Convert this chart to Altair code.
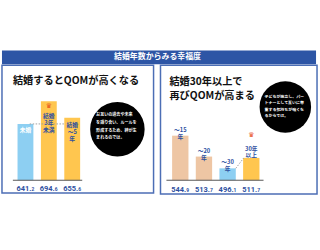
import altair as alt
import pandas as pd

TITLE = "結婚年数からみる幸福度"
LEFT_HEADING = "結婚するとQOMが高くなる"
RIGHT_HEADING_1 = "結婚30年以上で"
RIGHT_HEADING_2 = "再びQOMが高まる"
LEFT_NOTE = "お互いの過去や未来\nを語り合い、ルールを\n形成するため、絆が生\nまれるのでは。"
RIGHT_NOTE = "子どもが独立し、パー\nトナーとして互いに尊\n重する気持ちが強くな\nるからでは。"

LEFT_CATS = ["未婚", "結婚3年未満", "結婚～5年"]
LEFT_LABELS = ["未婚", "結婚\n3年\n未満", "結婚\n～5\n年"]
LEFT_VALUES = [641.2, 694.6, 655.6]
LEFT_BASE = 509.0

RIGHT_CATS = ["～15年", "～20年", "～30年", "30年以上"]
RIGHT_LABELS = ["～15\n年", "～20\n年", "～30\n年", "30年\n以上"]
RIGHT_VALUES = [544.9, 513.7, 496.1, 511.7]
RIGHT_BASE = 478.35

JP = "Noto Sans CJK JP"
NUM = "Roboto"
BLUE_HEAD = "#2D55A5"
BORDER = "#4C6EB5"
LABEL_BLUE = "#2E4F9F"
LIGHT_BLUE = "#8DCFF2"
ORANGE = "#FFC64F"
PEACH = "#EEC6A4"
CROWN_RED = "#E8531D"
CROWN = "♛"


def split_value(v):
    a, b = f"{v:.1f}".split(".")
    return a + ".", b


def make_df(cats, labels, values, base):
    return pd.DataFrame({
        "cat": cats,
        "idx": list(range(len(cats))),
        "label": labels,
        "value": values,
        "base": [base] * len(cats),
        "main": [split_value(v)[0] for v in values],
        "dec": [split_value(v)[1] for v in values],
    })


left_df = make_df(LEFT_CATS, LEFT_LABELS, LEFT_VALUES, LEFT_BASE)
right_df = make_df(RIGHT_CATS, RIGHT_LABELS, RIGHT_VALUES, RIGHT_BASE)
one = pd.DataFrame({"k": [0]})

# ---------------- header ----------------
header_bg = alt.Chart(one).mark_rect(color=BLUE_HEAD).encode(
    x=alt.value(0), x2=alt.value(317), y=alt.value(0), y2=alt.value(14))
header_txt = alt.Chart(one).mark_text(
    text=TITLE, font=JP, fontSize=8, fontWeight="bold", color="white",
    align="center", baseline="middle"
).encode(x=alt.value(157), y=alt.value(7))
header = alt.layer(header_bg, header_txt).properties(width=317, height=14)

# ---------------- left panel ----------------
lscale_x = alt.Scale(domain=[-0.792, 5.267], nice=False, zero=False)
lscale_y = alt.Scale(domain=[478.8, 778.8], nice=False, zero=False)
lx = alt.X("idx:Q", axis=None, scale=lscale_x)
ly = alt.Y("value:Q", axis=None, scale=lscale_y)
lb = alt.Y("base:Q", axis=None, scale=lscale_y)

l_border = alt.Chart(one).mark_rect(
    fill="white", stroke=BORDER, strokeWidth=1.5
).encode(x=alt.value(0), x2=alt.value(153), y=alt.value(0), y2=alt.value(129))
l_bars = alt.Chart(left_df).mark_bar(width=16).encode(
    x=lx, y=ly, y2="base:Q",
    color=alt.Color("cat:N", scale=alt.Scale(domain=LEFT_CATS, range=[LIGHT_BLUE, ORANGE, ORANGE]), legend=None),
)
l_dotted = alt.Chart(left_df.iloc[[0]]).mark_rule(
    color="#A0A0A0", strokeDash=[1.5, 1.5], strokeWidth=1
).encode(x=alt.value(28), x2=alt.value(63), y=ly)
l_axis = alt.Chart(left_df.iloc[[0]]).mark_rule(
    color="#555555", strokeWidth=1
).encode(x=alt.value(11), x2=alt.value(81), y=lb)
l_text1 = alt.Chart(left_df.iloc[[0]]).mark_text(
    font=JP, fontSize=5.8, fontWeight="bold", lineBreak="\n", lineHeight=7,
    baseline="top", align="center", dy=3, color="white"
).encode(x=lx, y=ly, text="label:N")
l_text2 = alt.Chart(left_df.iloc[[1]]).mark_text(
    font=JP, fontSize=5.8, fontWeight="bold", lineBreak="\n", lineHeight=7,
    baseline="top", align="center", dy=12, color=LABEL_BLUE
).encode(x=lx, y=ly, text="label:N")
l_text3 = alt.Chart(left_df.iloc[[2]]).mark_text(
    font=JP, fontSize=5.8, fontWeight="bold", lineBreak="\n", lineHeight=7,
    baseline="top", align="center", dy=4, color=LABEL_BLUE
).encode(x=lx, y=ly, text="label:N")
l_crown = alt.Chart(left_df.iloc[[1]]).mark_text(
    text=CROWN, font="DejaVu Sans", fontSize=7, color=CROWN_RED,
    align="center", baseline="middle", dy=4.5
).encode(x=lx, y=ly)
l_main = alt.Chart(left_df).mark_text(
    font=NUM, fontSize=7.5, fontWeight="bold", color=LABEL_BLUE,
    align="right", baseline="alphabetic", dx=6, dy=11
).encode(x=lx, y=lb, text="main:N")
l_dec = alt.Chart(left_df).mark_text(
    font=NUM, fontSize=5, fontWeight="bold", color=LABEL_BLUE,
    align="left", baseline="alphabetic", dx=6, dy=11
).encode(x=lx, y=lb, text="dec:N")
l_heading = alt.Chart(one).mark_text(
    text=LEFT_HEADING, font=JP, fontSize=10.3, fontWeight="bold", color="#111111",
    align="left", baseline="middle"
).encode(x=alt.value(11), y=alt.value(16))
l_circle = alt.Chart(one).mark_circle(size=3025, color="black", opacity=1).encode(
    x=alt.value(116.5), y=alt.value(64.5)
)
l_note = alt.Chart(one).mark_text(
    text=LEFT_NOTE, font=JP, fontSize=4.1, fontWeight="bold", color="white",
    align="left", baseline="top", lineBreak="\n", lineHeight=7.7
).encode(x=alt.value(95), y=alt.value(48.5))

left = alt.layer(
    l_border, l_bars, l_dotted, l_axis, l_text1, l_text2, l_text3, l_crown, l_main, l_dec,
    l_heading, l_circle, l_note
).properties(width=153, height=129)

# ---------------- right panel ----------------
rscale_x = alt.Scale(domain=[-0.627, 5.569], nice=False, zero=False)
rscale_y = alt.Scale(domain=[457.65, 649.95], nice=False, zero=False)
rx = alt.X("idx:Q", axis=None, scale=rscale_x)
ry = alt.Y("value:Q", axis=None, scale=rscale_y)
rb = alt.Y("base:Q", axis=None, scale=rscale_y)

r_border = alt.Chart(one).mark_rect(
    fill="white", stroke=BORDER, strokeWidth=1.5
).encode(x=alt.value(0), x2=alt.value(158), y=alt.value(0), y2=alt.value(130))
r_bars = alt.Chart(right_df).mark_bar(width=16.5).encode(
    x=rx, y=ry, y2="base:Q",
    color=alt.Color("cat:N", scale=alt.Scale(domain=RIGHT_CATS, range=[PEACH, PEACH, LIGHT_BLUE, ORANGE]), legend=None),
)
r_axis = alt.Chart(right_df.iloc[[0]]).mark_rule(
    color="#555555", strokeWidth=1
).encode(x=alt.value(6), x2=alt.value(104), y=rb)
r_dotted = alt.Chart(right_df.iloc[[2]]).mark_rule(
    color="#A0A0A0", strokeDash=[1.5, 1.5], strokeWidth=1
).encode(x=alt.value(76), x2=alt.value(84), y=ry, y2=alt.datum(RIGHT_VALUES[3]))
r_text = alt.Chart(right_df.iloc[[0, 1, 2]]).mark_text(
    font=JP, fontSize=5.8, fontWeight="bold", lineBreak="\n", lineHeight=7,
    baseline="bottom", align="center", dy=-3, color=LABEL_BLUE
).encode(x=rx, y=ry, text="label:N")
r_text_top = alt.Chart(right_df.iloc[[3]]).mark_text(
    font=JP, fontSize=5.8, fontWeight="bold", lineBreak="\n", lineHeight=6.5,
    baseline="bottom", align="center", dy=-6, color=LABEL_BLUE
).encode(x=rx, y=ry, text="label:N")
r_crown = alt.Chart(right_df.iloc[[3]]).mark_text(
    text=CROWN, font="DejaVu Sans", fontSize=7, color=CROWN_RED,
    align="center", baseline="middle", dy=-23
).encode(x=rx, y=ry)
r_main = alt.Chart(right_df).mark_text(
    font=NUM, fontSize=7.5, fontWeight="bold", color=LABEL_BLUE,
    align="right", baseline="alphabetic", dx=6, dy=12
).encode(x=rx, y=rb, text="main:N")
r_dec = alt.Chart(right_df).mark_text(
    font=NUM, fontSize=5, fontWeight="bold", color=LABEL_BLUE,
    align="left", baseline="alphabetic", dx=6, dy=12
).encode(x=rx, y=rb, text="dec:N")
r_head1 = alt.Chart(one).mark_text(
    text=RIGHT_HEADING_1, font=JP, fontSize=10.3, fontWeight="bold", color="#111111",
    align="left", baseline="middle"
).encode(x=alt.value(9), y=alt.value(17))
r_head2 = alt.Chart(one).mark_text(
    text=RIGHT_HEADING_2, font=JP, fontSize=10.3, fontWeight="bold", color="#111111",
    align="left", baseline="middle"
).encode(x=alt.value(9), y=alt.value(30.5))
r_circle = alt.Chart(one).mark_circle(size=2704, color="black", opacity=1).encode(
    x=alt.value(126), y=alt.value(42)
)
r_note = alt.Chart(one).mark_text(
    text=RIGHT_NOTE, font=JP, fontSize=4.0, fontWeight="bold", color="white",
    align="left", baseline="top", lineBreak="\n", lineHeight=6.6
).encode(x=alt.value(105), y=alt.value(29.5))

right = alt.layer(
    r_border, r_bars, r_axis, r_dotted, r_text, r_text_top, r_crown, r_main, r_dec,
    r_head1, r_head2, r_circle, r_note
).properties(width=158, height=130)

chart = alt.vconcat(
    header,
    alt.hconcat(left, right, spacing=5).resolve_scale(color="independent"),
    spacing=0,
).properties(
    padding={"left": 1, "top": 50, "right": 2, "bottom": 2},
    background="white",
).configure_view(strokeWidth=0)

chart.save("out.html", embed_options={"renderer": "svg", "actions": False})
